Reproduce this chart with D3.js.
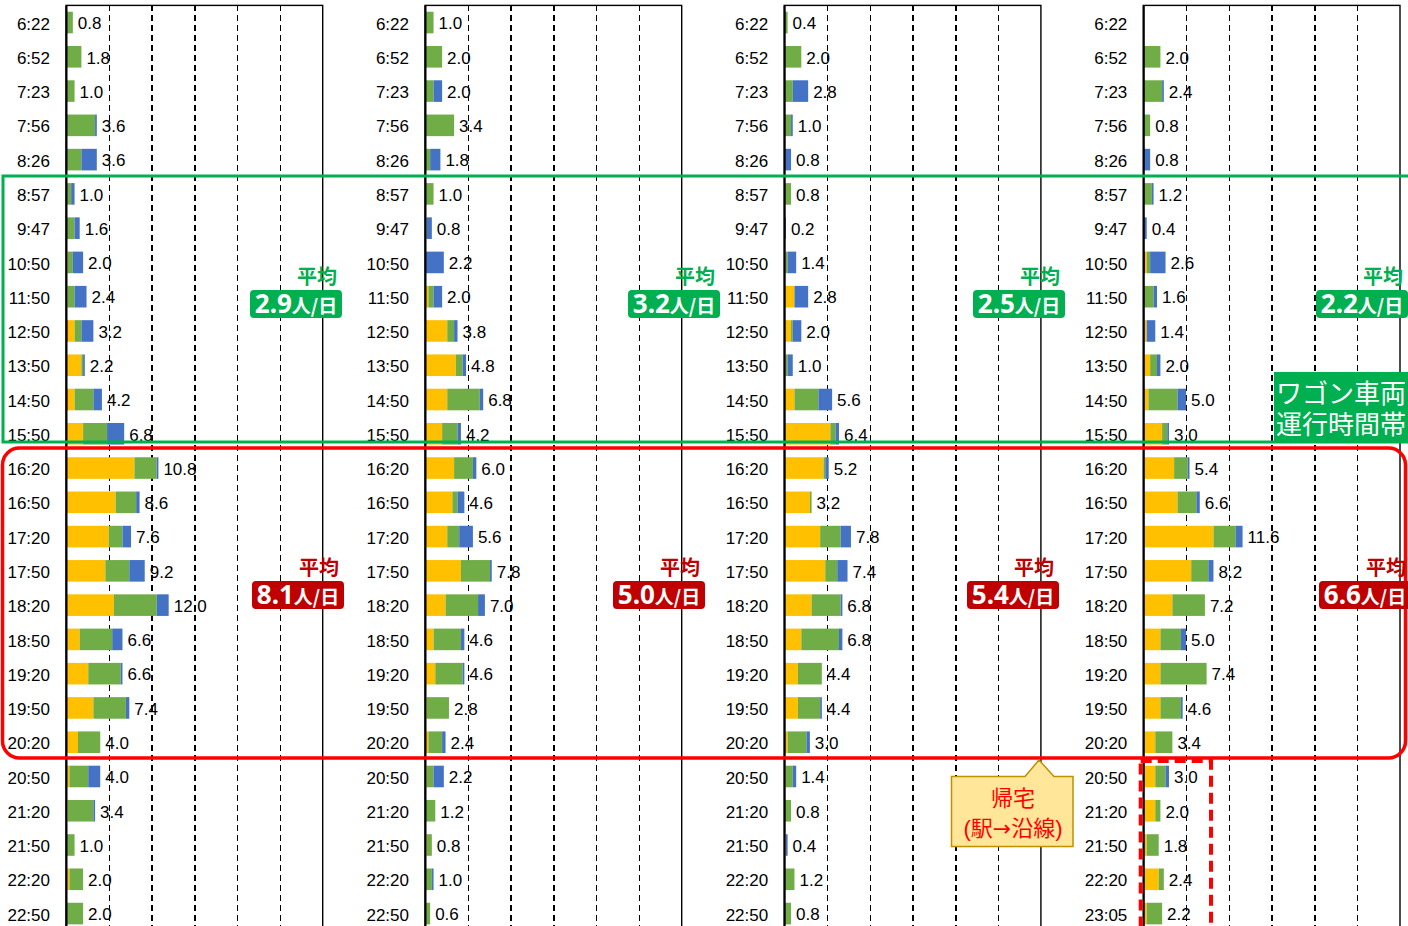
<!DOCTYPE html>
<html>
<head>
<meta charset="utf-8">
<script src="https://cdn.jsdelivr.net/npm/d3@7"></script>
<style>
body { margin: 0; background: #fff; }
svg text { font-family: "Liberation Sans", Arial, "Noto Sans CJK JP", sans-serif; }
</style>
</head>
<body>
<svg id="chart"></svg>
<script>
// time slots (panels 1-3 share them, panel 4 ends at 23:05)
var times = ["6:22","6:52","7:23","7:56","8:26","8:57","9:47","10:50","11:50","12:50","13:50","14:50","15:50",
  "16:20","16:50","17:20","17:50","18:20","18:50","19:20","19:50","20:20","20:50","21:20","21:50","22:20","22:50"];
var times4 = ["6:22","6:52","7:23","7:56","8:26","8:57","9:47","10:50","11:50","12:50","13:50","14:50","15:50",
  "16:20","16:50","17:20","17:50","18:20","18:50","19:20","19:50","20:20","20:50","21:20","21:50","22:20","23:05"];

// panel 1
var red1    = [0,0,0,0,0,0,0,0,0,0.2,0,0.2,0,0,0,0,0,0,0,0,0,0,0,0,0,0,0];
var yellow1 = [0,0,0,0,0,0,0,0.2,0.2,0.8,1.8,0.8,2.0,8.0,5.8,5.0,4.6,5.6,1.6,2.6,3.2,1.4,0.4,0.2,0,0.4,0];
var green1  = [0.8,1.8,1.0,3.4,1.8,0.6,1.0,0.6,0.8,0.8,0.2,2.2,2.8,2.6,2.4,1.6,2.8,5.0,3.8,3.8,3.8,2.6,2.2,3.0,1.0,1.6,2.0];
var blue1   = [0,0,0,0.2,1.8,0.4,0.6,1.2,1.4,1.4,0.2,1.0,2.0,0.2,0.4,1.0,1.8,1.4,1.2,0.2,0.4,0,1.4,0.2,0,0,0];
// panel 2
var red2    = [0,0,0,0,0,0,0,0,0,0,0,0,0,0,0,0,0,0,0,0,0,0,0,0,0,0,0];
var yellow2 = [0,0,0,0,0,0,0,0,0.4,2.6,3.6,2.6,2.0,3.4,3.2,2.6,4.2,2.4,1.0,1.2,0.2,0.4,0.2,0,0.2,0,0];
var green2  = [1.0,2.0,1.0,3.4,0.6,1.0,0.2,0,0.6,0.8,0.8,3.8,1.8,2.2,0.6,1.4,3.4,3.8,3.2,3.2,2.6,1.6,0.8,1.2,0.6,0.8,0.6];
var blue2   = [0,0,1.0,0,1.2,0,0.6,2.2,1.0,0.4,0.4,0.4,0.4,0.4,0.8,1.6,0.2,0.8,0.4,0.2,0,0.4,1.2,0,0,0.2,0];
// panel 3
var red3    = [0,0,0,0,0,0,0,0,0,0,0,0,0,0,0,0,0,0,0,0,0,0,0,0,0,0,0];
var yellow3 = [0,0,0,0,0,0,0,0.2,1.2,0.8,0.2,1.2,5.4,4.6,3.0,4.2,4.8,3.2,2.0,1.6,1.6,0.4,0.2,0,0.2,0,0];
var green3  = [0.4,2.0,1.0,0.8,0,0.8,0,0.2,0,0.2,0.2,2.8,0.6,0.2,0.2,2.4,1.4,3.4,4.4,2.8,2.6,2.2,0.8,0.8,0,1.2,0.8];
var blue3   = [0,0,1.8,0.2,0.8,0,0.2,1.0,1.6,1.0,0.6,1.6,0.4,0.4,0,1.2,1.2,0.2,0.4,0,0.2,0.4,0.4,0,0.2,0,0];
// panel 4
var red4    = [0,0,0,0,0,0,0,0.2,0,0,0,0,0,0,0,0,0,0,0,0,0,0,0,0,0,0,0];
var yellow4 = [0,0,0,0,0,0,0,0.2,0,0.4,0.8,0.6,2.2,3.6,4.0,8.2,5.6,3.4,2.0,2.0,2.0,1.4,1.4,1.4,0.4,1.8,0.4];
var green4  = [0,2.0,2.2,0.8,0,1.0,0,0.4,1.2,0,0.8,3.4,0.6,1.6,2.2,2.6,2.0,3.8,2.4,5.4,2.4,2.0,1.2,0.6,1.4,0.6,1.8];
var blue4   = [0,0,0.2,0,0.8,0.2,0.4,1.8,0.4,1.0,0.4,1.0,0.2,0.2,0.4,0.8,0.6,0,0.6,0,0.2,0,0.4,0,0,0,0];

// averages (person/day): wagon hours, evening hours
var avgWagon = [2.9, 3.2, 2.5, 2.2];
var avgEvening = [8.1, 5.0, 5.4, 6.6];

var width = 1408, height = 926;
var keys = ["red", "yellow", "green", "blue"];
var colors = {red: "#FF0000", yellow: "#FFC000", green: "#70AD47", blue: "#4472C4"};

var panels = [
  {times: times,  red: red1, yellow: yellow1, green: green1, blue: blue1},
  {times: times,  red: red2, yellow: yellow2, green: green2, blue: blue2},
  {times: times,  red: red3, yellow: yellow3, green: green3, blue: blue3},
  {times: times4, red: red4, yellow: yellow4, green: green4, blue: blue4}
];

var panelLeft = [66, 425, 784.2, 1143.3];
var plotW = 256.7, plotTop = 5.4, step = 34.27, nRows = 27;

var svg = d3.select("#chart").attr("width", width).attr("height", height);

var x = d3.scaleLinear().domain([0, 30]).range([0, plotW]);
var y = d3.scaleBand()
    .domain(d3.range(nRows))
    .range([plotTop, plotTop + nRows * step])
    .paddingInner(0.37)
    .paddingOuter(0.185);

var stack = d3.stack().keys(keys);

panels.forEach(function(p, pi) {
    var rows = d3.range(nRows).map(function(i) {
        return {i: i, red: p.red[i], yellow: p.yellow[i], green: p.green[i], blue: p.blue[i]};
    });
    var g = svg.append("g").attr("transform", "translate(" + panelLeft[pi] + ",0)");

    // dashed gridlines
    var grid = g.append("g")
        .attr("transform", "translate(0," + plotTop + ")")
        .call(d3.axisTop(x).tickValues([5, 10, 15, 20, 25]).tickSize(-(height)).tickFormat(""));
    grid.select(".domain").remove();
    grid.selectAll("line")
        .attr("stroke", "#000")
        .attr("stroke-width", 1.5)
        .attr("stroke-dasharray", "6,4")
        .attr("shape-rendering", "crispEdges");

    // plot border
    g.append("rect")
        .attr("x", 0).attr("y", plotTop)
        .attr("width", plotW).attr("height", height)
        .attr("fill", "none")
        .attr("stroke", "#000")
        .attr("stroke-width", 1.4);

    // stacked bars
    var series = stack(rows);
    g.selectAll(".series")
        .data(series)
        .enter().append("g")
        .attr("fill", function(d) { return colors[d.key]; })
        .selectAll("rect")
        .data(function(d) { return d; })
        .enter().append("rect")
        .attr("x", function(d) { return x(d[0]); })
        .attr("y", function(d) { return y(d.data.i); })
        .attr("width", function(d) { return x(d[1]) - x(d[0]); })
        .attr("height", y.bandwidth());

    // time axis
    var ax = g.append("g")
        .call(d3.axisLeft(y).tickSize(0).tickPadding(16).tickFormat(function(i) { return p.times[i]; }));
    ax.select(".domain").attr("stroke", "#000").attr("stroke-width", 2);
    ax.selectAll("text")
        .attr("font-family", "Liberation Sans, Arial, sans-serif")
        .attr("font-size", 17)
        .attr("fill", "#000")
        .attr("dy", "0.42em");

    // totals
    g.selectAll(".total")
        .data(rows.filter(function(r) { return r.red + r.yellow + r.green + r.blue > 0; }))
        .enter().append("text")
        .attr("x", function(r) { return x(r.red + r.yellow + r.green + r.blue) + 5; })
        .attr("y", function(r) { return y(r.i) + y.bandwidth() / 2; })
        .attr("dy", "0.4em")
        .attr("font-size", 17)
        .attr("fill", "#000")
        .text(function(r) { return (r.red + r.yellow + r.green + r.blue).toFixed(1); });
});

// wagon hours frame (green) and evening frame (red)
svg.append("rect")
    .attr("x", 3).attr("y", 176).attr("width", 1420).attr("height", 266)
    .attr("fill", "none").attr("stroke", "#00B050").attr("stroke-width", 3);

svg.append("rect")
    .attr("x", 2.5).attr("y", 448).attr("width", 1403).attr("height", 310)
    .attr("rx", 17).attr("ry", 17)
    .attr("fill", "none").attr("stroke", "#FF0000").attr("stroke-width", 3.5);

svg.append("rect")
    .attr("x", 1140.7).attr("y", 761).attr("width", 70.3).attr("height", 200)
    .attr("fill", "none").attr("stroke", "#FF0000").attr("stroke-width", 4)
    .attr("stroke-dasharray", "11,6");

// average badges
var wagonBadgeX = [250, 628, 973, 1316];
var eveningBadgeX = [252, 613, 967, 1319];

function badge(bx, by, val, col) {
    svg.append("text")
        .attr("x", bx + 87).attr("y", by - 6)
        .attr("text-anchor", "end")
        .attr("font-family", "Noto Sans CJK JP, sans-serif")
        .attr("font-weight", "bold")
        .attr("font-size", 20)
        .attr("fill", col)
        .text("平均");
    svg.append("rect")
        .attr("x", bx).attr("y", by).attr("width", 92).attr("height", 28)
        .attr("rx", 4).attr("fill", col);
    var t = svg.append("text")
        .attr("x", bx + 46).attr("y", by + 22.5)
        .attr("text-anchor", "middle")
        .attr("fill", "#fff")
        .attr("font-weight", "bold");
    t.append("tspan")
        .attr("font-family", "Noto Sans, sans-serif")
        .attr("font-size", 26)
        .text(val.toFixed(1));
    t.append("tspan")
        .attr("font-family", "Noto Sans CJK JP, sans-serif")
        .attr("font-size", 19)
        .text("人/日");
}
avgWagon.forEach(function(v, i) { badge(wagonBadgeX[i], 290, v, "#00B050"); });
avgEvening.forEach(function(v, i) { badge(eveningBadgeX[i], 581, v, "#C00000"); });

// wagon label
svg.append("rect")
    .attr("x", 1274).attr("y", 372).attr("width", 140).attr("height", 70)
    .attr("fill", "#00B050");
var wl = svg.append("text")
    .attr("font-family", "Noto Sans CJK JP, sans-serif")
    .attr("font-size", 26)
    .attr("fill", "#fff");
wl.append("tspan").attr("x", 1276).attr("y", 403).text("ワゴン車両");
wl.append("tspan").attr("x", 1276).attr("y", 434).text("運行時間帯");

// callout
svg.append("path")
    .attr("d", "M951.5,776.5 L1025,776.5 L1039,760 L1054,776.5 L1073,776.5 L1073,846.5 L951.5,846.5 Z")
    .attr("fill", "#FFE699").attr("stroke", "#BF9000").attr("stroke-width", 1.5);
var cl = svg.append("text")
    .attr("font-family", "Noto Sans CJK JP, sans-serif")
    .attr("font-size", 22)
    .attr("fill", "#FF0000")
    .attr("text-anchor", "middle");
cl.append("tspan").attr("x", 1013).attr("y", 806).text("帰宅");
var l2 = cl.append("tspan").attr("x", 1013).attr("y", 836);
l2.append("tspan").text("(駅");
l2.append("tspan").attr("font-family", "DejaVu Sans, sans-serif").text("→");
l2.append("tspan").text("沿線)");
</script>
</body>
</html>
